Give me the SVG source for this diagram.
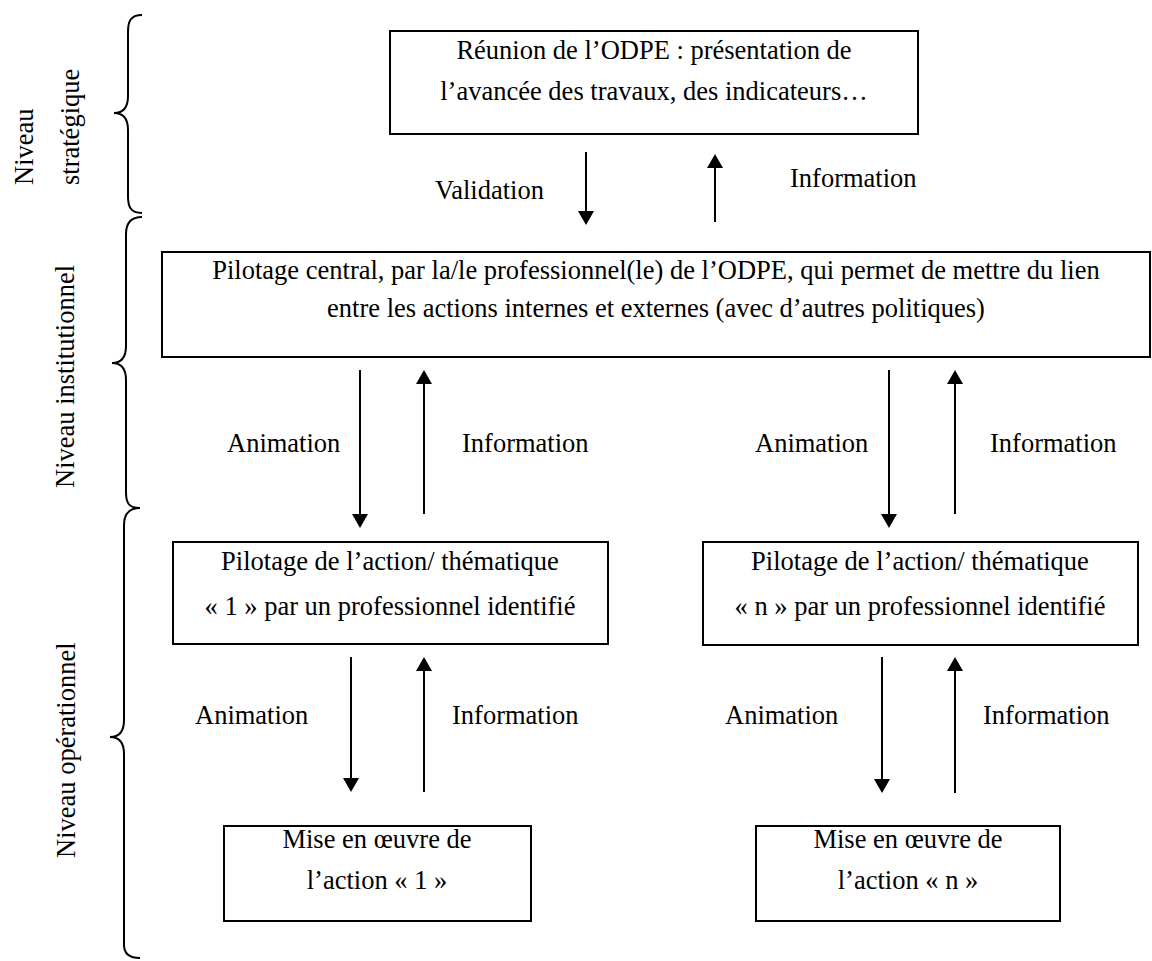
<svg xmlns="http://www.w3.org/2000/svg" width="1152" height="961" viewBox="0 0 1152 961">
<style>
  text { font-family: 'Liberation Serif', 'Times New Roman', serif; font-size: 26.5px; fill: #000; }
  .c { text-anchor: middle; }
  .box { fill: #fff; stroke: #000; stroke-width: 2; }
  .arr { stroke: #000; stroke-width: 2; fill: none; marker-end: url(#ah); }
  .brace { stroke: #000; stroke-width: 2; fill: none; }
</style>
<defs>
  <marker id="ah" viewBox="0 0 14 16" refX="4" refY="8" markerWidth="14" markerHeight="16" markerUnits="userSpaceOnUse" orient="auto">
    <path d="M0,0 L14,8 L0,16 z" fill="#000"/>
  </marker>
</defs>
<rect width="1152" height="961" fill="#fff"/>

<g id="side-labels">
  <text transform="translate(33,185) rotate(-90)">Niveau</text>
  <text transform="translate(79,185) rotate(-90)">stratégique</text>
  <text transform="translate(74,488) rotate(-90)">Niveau institutionnel</text>
  <text transform="translate(75,858) rotate(-90)">Niveau opérationnel</text>
</g>

<g id="braces">
  <path class="brace" d="M142,15 C130,15 128,22 128,32 L128,96 C128,107 124,113 114,113 C124,113 128,119 128,130 L128,196 C128,206 130,213 142,213"/>
  <path class="brace" d="M142,217 C130,217 126,224 126,234 L126,346 C126,357 122,363 112,363 C122,363 126,369 126,380 L126,492 C126,502 128,508 140,508"/>
  <path class="brace" d="M140,508 C128,508 124,515 124,525 L124,720 C124,731 120,737 110,737 C120,737 124,743 124,754 L124,945 C124,953 128,958 140,958"/>
</g>

<g id="node-reunion">
  <rect class="box" x="390" y="31" width="528" height="103"/>
  <text class="c" x="654" y="59" font-size="27">Réunion de l’ODPE : présentation de</text>
  <text class="c" x="654" y="100" font-size="27">l’avancée des travaux, des indicateurs…</text>
</g>

<g id="node-pilotage-central">
  <rect class="box" x="162" y="252" width="988" height="105"/>
  <text class="c" x="656" y="279">Pilotage central, par la/le professionnel(le) de l’ODPE, qui permet de mettre du lien</text>
  <text class="c" x="656" y="317">entre les actions internes et externes (avec d’autres politiques)</text>
</g>

<g id="node-pilotage-1">
  <rect class="box" x="173" y="542" width="435" height="102"/>
  <text class="c" x="390" y="570">Pilotage de l’action/ thématique</text>
  <text class="c" x="390" y="615">« 1 » par un professionnel identifié</text>
</g>

<g id="node-pilotage-n">
  <rect class="box" x="703" y="542" width="435" height="103"/>
  <text class="c" x="920" y="570">Pilotage de l’action/ thématique</text>
  <text class="c" x="920" y="615">« n » par un professionnel identifié</text>
</g>

<g id="node-mise-1">
  <rect class="box" x="224" y="826" width="307" height="95"/>
  <text class="c" x="377" y="848">Mise en œuvre de</text>
  <text class="c" x="377" y="889">l’action « 1 »</text>
</g>

<g id="node-mise-n">
  <rect class="box" x="756" y="826" width="304" height="95"/>
  <text class="c" x="908" y="848">Mise en œuvre de</text>
  <text class="c" x="908" y="889">l’action « n »</text>
</g>

<g id="connectors">
  <line class="arr" x1="586" y1="152" x2="586" y2="215"/>
  <line class="arr" x1="715" y1="222" x2="715" y2="164"/>
  <line class="arr" x1="360" y1="370" x2="360" y2="518"/>
  <line class="arr" x1="424" y1="514" x2="424" y2="380"/>
  <line class="arr" x1="889" y1="370" x2="889" y2="518"/>
  <line class="arr" x1="955" y1="514" x2="955" y2="380"/>
  <line class="arr" x1="351" y1="657" x2="351" y2="782"/>
  <line class="arr" x1="424" y1="792" x2="424" y2="667"/>
  <line class="arr" x1="882" y1="657" x2="882" y2="783"/>
  <line class="arr" x1="955" y1="793" x2="955" y2="667"/>
</g>

<g id="connector-labels">
  <text x="435" y="199">Validation</text>
  <text x="790" y="187">Information</text>
  <text x="227" y="452">Animation</text>
  <text x="462" y="452">Information</text>
  <text x="755" y="452">Animation</text>
  <text x="990" y="452">Information</text>
  <text x="195" y="724">Animation</text>
  <text x="452" y="724">Information</text>
  <text x="725" y="724">Animation</text>
  <text x="983" y="724">Information</text>
</g>
</svg>
